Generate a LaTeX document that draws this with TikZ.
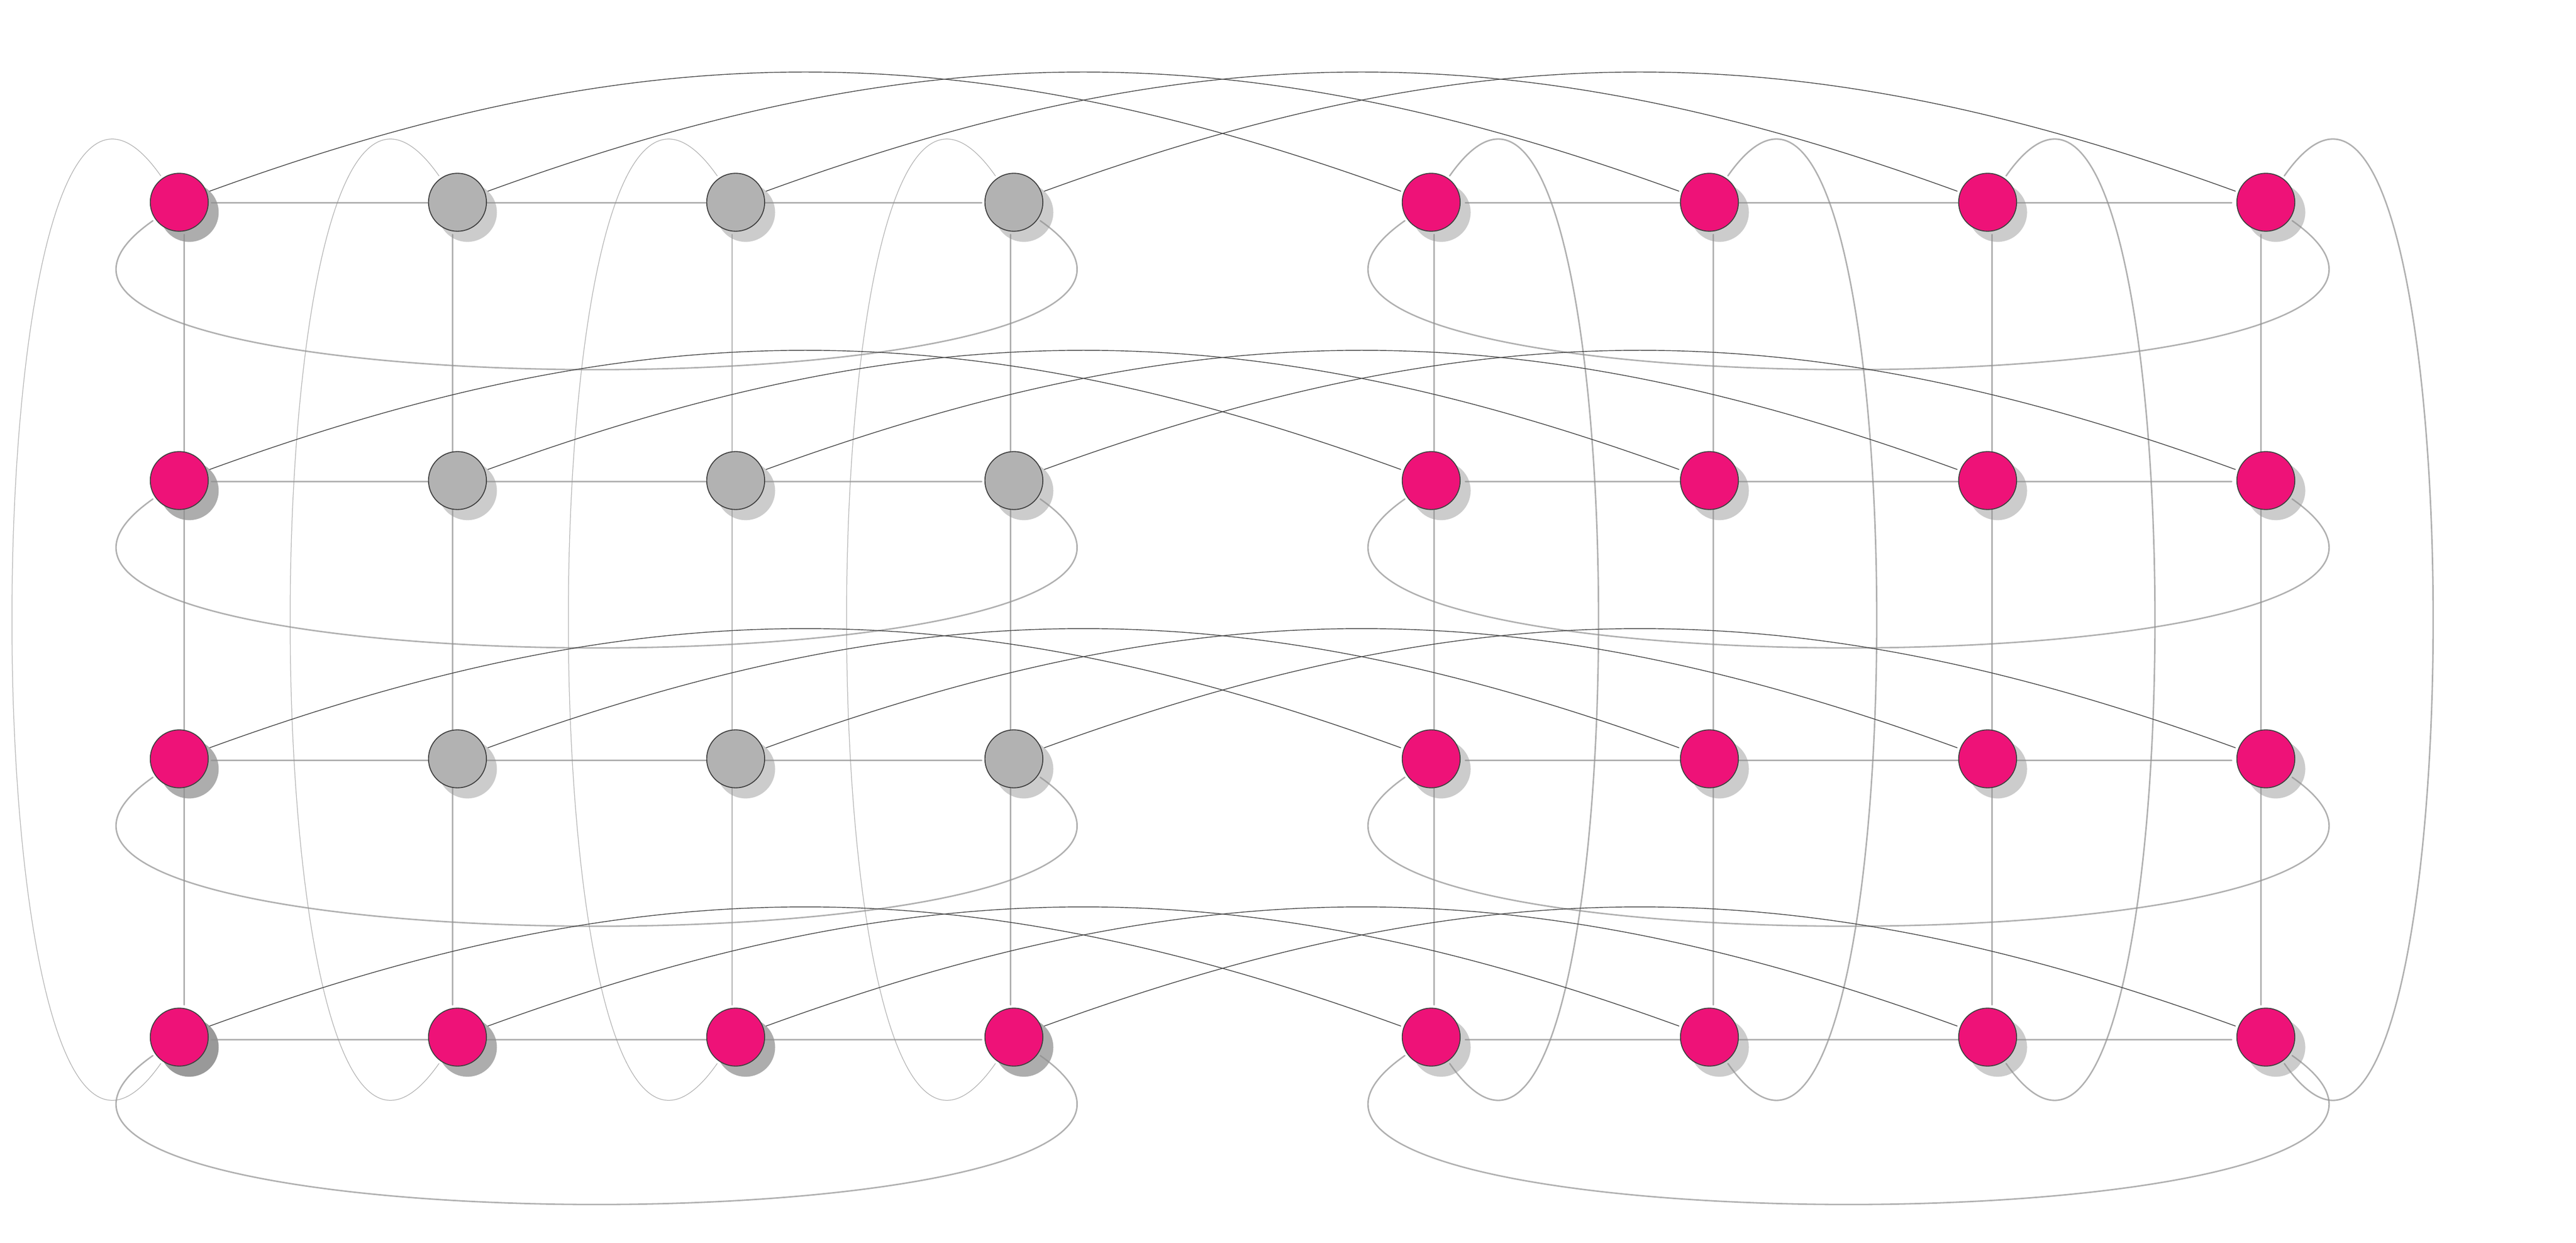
\documentclass[tikz,border=0pt]{standalone}
\usepackage[]{xcolor}

\definecolor{dotpink}{RGB}{238,18,120}
\definecolor{dotgrey}{RGB}{178,178,178}
\definecolor{rimgrey}{RGB}{64,64,64}

\pgfdeclarelayer{shade}
\pgfdeclarelayer{wire}
\pgfsetlayers{shade,wire,main}

\tikzset{
  dot/.style = {circle, minimum size = 18pt, inner sep = 0pt, outer sep = 1pt,
                draw = rimgrey, line width = .3pt, fill = dotpink},
  greydot/.style = {dot, fill = dotgrey},
  link/.style = {draw = black!44, opacity = .7, line width = .45pt, line cap = round},
  faintlink/.style = {link, line width = .2pt},
  straight/.style = {link, shorten <=.6pt, shorten >=.6pt},
  hop/.style = {draw = rimgrey, line width = .23pt},
  shadelight/.style = {fill = black!20},
  shademid/.style = {fill = black!32},
  shadedark/.style = {fill = black!40}
}

\begin{document}
\begin{tikzpicture}[x = 86.4pt, y = 86.4pt]
\useasboundingbox (-55.67pt,-63.8pt) rectangle (744.33pt,322pt);
% left block, rows a (top) to d (bottom)
\node[dot] (a1) at (0,3) {};
\node[greydot] (a2) at (1,3) {};
\node[greydot] (a3) at (2,3) {};
\node[greydot] (a4) at (3,3) {};
\node[dot] (b1) at (0,2) {};
\node[greydot] (b2) at (1,2) {};
\node[greydot] (b3) at (2,2) {};
\node[greydot] (b4) at (3,2) {};
\node[dot] (c1) at (0,1) {};
\node[greydot] (c2) at (1,1) {};
\node[greydot] (c3) at (2,1) {};
\node[greydot] (c4) at (3,1) {};
\node[dot] (d1) at (0,0) {};
\node[dot] (d2) at (1,0) {};
\node[dot] (d3) at (2,0) {};
\node[dot] (d4) at (3,0) {};
% right block
\node[dot] (a5) at (4.5,3) {};
\node[dot] (a6) at (5.5,3) {};
\node[dot] (a7) at (6.5,3) {};
\node[dot] (a8) at (7.5,3) {};
\node[dot] (b5) at (4.5,2) {};
\node[dot] (b6) at (5.5,2) {};
\node[dot] (b7) at (6.5,2) {};
\node[dot] (b8) at (7.5,2) {};
\node[dot] (c5) at (4.5,1) {};
\node[dot] (c6) at (5.5,1) {};
\node[dot] (c7) at (6.5,1) {};
\node[dot] (c8) at (7.5,1) {};
\node[dot] (d5) at (4.5,0) {};
\node[dot] (d6) at (5.5,0) {};
\node[dot] (d7) at (6.5,0) {};
\node[dot] (d8) at (7.5,0) {};

\begin{pgfonlayer}{shade}
\foreach \nd in {a2,a3,a4,b2,b3,b4,c2,c3,c4,a5,a6,a7,a8,b5,b6,b7,b8,c5,c6,c7,c8,d5,d6,d7,d8}
  \fill[shadelight] ([shift={(3.1pt,-3.15pt)}]\nd.center) circle (9.15pt);
\foreach \nd in {a1,b1,c1,d2,d3,d4}
  \fill[shademid] ([shift={(3.1pt,-3.15pt)}]\nd.center) circle (9.15pt);
\fill[shadedark] ([shift={(3.1pt,-3.15pt)}]d1.center) circle (9.15pt);
\end{pgfonlayer}

\begin{pgfonlayer}{wire}
% rows and columns
\draw[straight, transform canvas={yshift=-.1pt}] (a1) -- (a4) (a5) -- (a8);
\draw[straight, transform canvas={yshift=-.27pt}] (b1) -- (b4) (b5) -- (b8);
\draw[straight, transform canvas={yshift=-.52pt}] (c1) -- (c4) (c5) -- (c8);
\draw[straight, transform canvas={yshift=-.74pt}] (d1) -- (d4) (d5) -- (d8);
\foreach \cl/\dx in {1/1.57,2/-1.47,3/-1.12,4/-1.06,5/.93,6/1.16,7/1.4,8/-1.53}
  \draw[link, transform canvas={xshift=\dx pt}] (a\cl) -- (d\cl);
% wrap-around loops
\foreach \rw in {a,b,c,d}
  \draw[link] (\rw1) to[bend right=145] (\rw4) (\rw5) to[bend right=145] (\rw8);
\foreach \cl in {1,...,4}
  \draw[faintlink] (a\cl) to[bend right=145] (d\cl);
\foreach \cl in {5,...,8}
  \draw[link] (a\cl) to[bend left=145] (d\cl);
% links between the two blocks
\foreach \rw in {a,b,c,d}
  \foreach \cl/\far in {1/5,2/6,3/7,4/8}
    \draw[hop] (\rw\cl) to[bend left=20] (\rw\far);
\end{pgfonlayer}
\end{tikzpicture}
\end{document}
